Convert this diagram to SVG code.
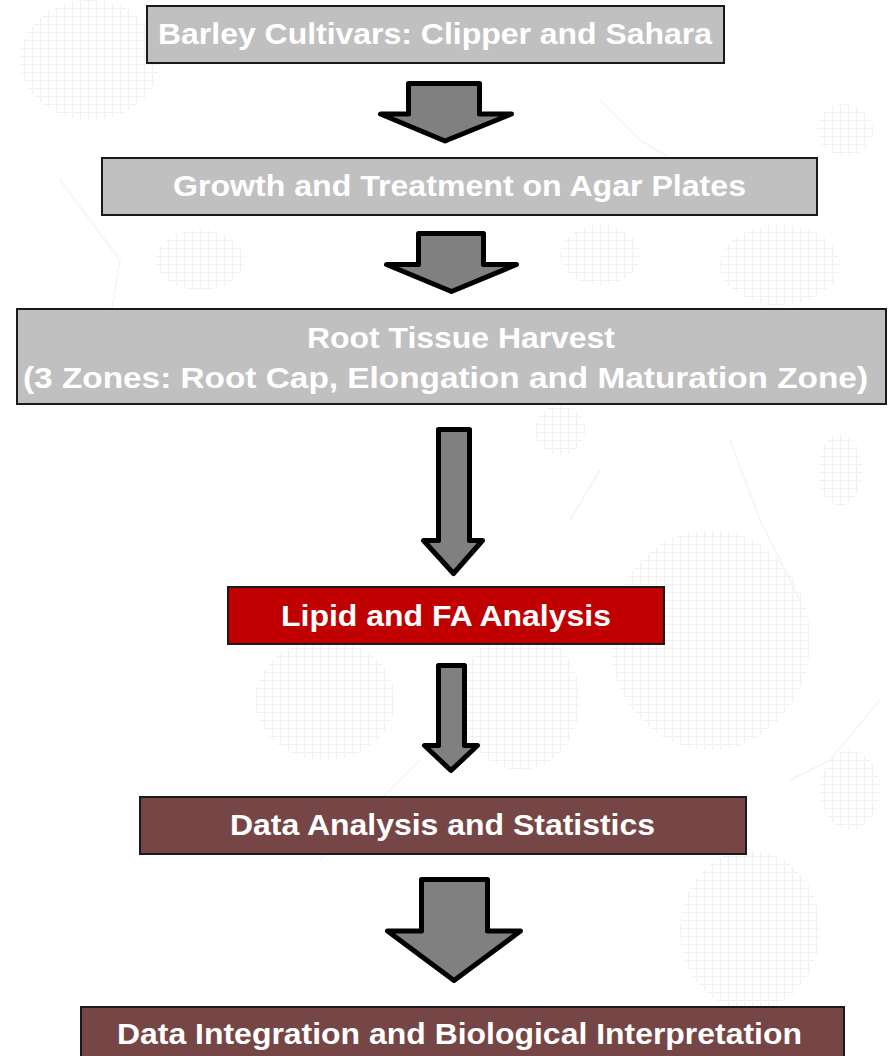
<svg xmlns="http://www.w3.org/2000/svg" width="889" height="1056" viewBox="0 0 889 1056">
  <defs>
    <style>
      .box { stroke: #1a1a1a; stroke-width: 2; }
      .grey { fill: #c0c0c0; }
      .red { fill: #c00000; }
      .brown { fill: #764646; }
      .label { font-family: "Liberation Sans", Arial, sans-serif; font-weight: bold; font-size: 30px; fill: #ffffff; text-anchor: middle; }
      .arrow { fill: #808080; stroke: #000000; stroke-width: 5; stroke-linejoin: round; }
      .wm { fill: url(#mesh); }
      .trace { fill: none; stroke: #f3f3f3; stroke-width: 1.5; }
    </style>
    <!-- fine mesh used for the faint background map -->
    <pattern id="mesh" width="8" height="8" patternUnits="userSpaceOnUse">
      <path d="M0 0.5H8M0.5 0V8" stroke="#f1f1f1" stroke-width="1.2" fill="none"/>
    </pattern>
  </defs>

  <rect width="889" height="1056" fill="#ffffff"/>

  <!-- faint background map texture -->
  <g id="background">
    <ellipse class="wm" cx="710" cy="640" rx="100" ry="110"/>
    <ellipse class="wm" cx="845" cy="130" rx="28" ry="26"/>
    <ellipse class="wm" cx="840" cy="470" rx="22" ry="36"/>
    <ellipse class="wm" cx="600" cy="255" rx="40" ry="30"/>
    <ellipse class="wm" cx="780" cy="265" rx="60" ry="40"/>
    <ellipse class="wm" cx="325" cy="700" rx="70" ry="60"/>
    <ellipse class="wm" cx="520" cy="700" rx="60" ry="70"/>
    <ellipse class="wm" cx="750" cy="930" rx="70" ry="80"/>
    <ellipse class="wm" cx="850" cy="790" rx="30" ry="40"/>
    <ellipse class="wm" cx="90" cy="60" rx="70" ry="60"/>
    <ellipse class="wm" cx="560" cy="430" rx="25" ry="25"/>
    <ellipse class="wm" cx="200" cy="260" rx="45" ry="30"/>
    <path class="trace" d="M600 100 L640 140 L690 170 M730 440 L760 520 L800 600 M880 700 L830 760 L790 780 M600 470 L570 520 M420 760 L360 820 L320 860 M60 180 L120 260 L110 320"/>
  </g>

  <!-- connectors -->
  <g id="connectors">
    <path class="arrow" d="M408.5 83.5H479.5V114H511.5L445 141L380.5 114H408.5Z"/>
    <path class="arrow" d="M418.5 233.5H483.5V264.5H516.5L451.5 291.5L386.5 264.5H418.5Z"/>
    <path class="arrow" d="M438.5 429.5H469.5V540.5H482.5L453.5 573.5L423.5 540.5H438.5Z"/>
    <path class="arrow" d="M438.5 665.5H464.5V745.5H477.5L451 770.5L424.5 745.5H438.5Z"/>
    <path class="arrow" d="M421.5 879.5H487.5V931H520.5L454 980.5L387.5 931H421.5Z"/>
  </g>

  <g id="cultivars">
    <rect class="box grey" x="147" y="6" width="577" height="57"/>
    <text class="label" x="435" y="44" textLength="554" lengthAdjust="spacingAndGlyphs">Barley Cultivars: Clipper and Sahara</text>
  </g>

  <g id="growth">
    <rect class="box grey" x="102" y="158" width="715" height="57"/>
    <text class="label" x="459.5" y="196" textLength="573" lengthAdjust="spacingAndGlyphs">Growth and Treatment on Agar Plates</text>
  </g>

  <g id="harvest">
    <rect class="box grey" x="17" y="309" width="869" height="95"/>
    <text class="label" x="461" y="348" textLength="308" lengthAdjust="spacingAndGlyphs">Root Tissue Harvest</text>
    <text class="label" x="445.5" y="388" textLength="845" lengthAdjust="spacingAndGlyphs">(3 Zones: Root Cap, Elongation and Maturation Zone)</text>
  </g>

  <g id="lipid">
    <rect class="box red" x="228" y="587" width="436" height="57"/>
    <text class="label" x="446" y="626" textLength="330" lengthAdjust="spacingAndGlyphs">Lipid and FA Analysis</text>
  </g>

  <g id="statistics">
    <rect class="box brown" x="140" y="797" width="606" height="57"/>
    <text class="label" x="442.5" y="835" textLength="425" lengthAdjust="spacingAndGlyphs">Data Analysis and Statistics</text>
  </g>

  <g id="integration">
    <rect class="box brown" x="81" y="1007" width="763" height="60"/>
    <text class="label" x="459.5" y="1044" textLength="685" lengthAdjust="spacingAndGlyphs">Data Integration and Biological Interpretation</text>
  </g>
</svg>
